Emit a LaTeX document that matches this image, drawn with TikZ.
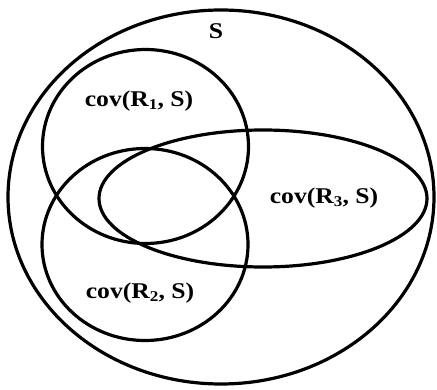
\documentclass[tikz,border=0pt]{standalone}
\usepackage{fontspec}
\setmainfont{Liberation Serif}
\newcommand{\wide}[1]{\scalebox{1.14}[1]{#1}}
\newcommand{\sbs}[1]{\raisebox{-0.32ex}{\fontsize{15}{16}\selectfont #1}}
\tikzset{
  setline/.style={line width=3.2pt, draw=black},
  lbl/.style={font=\fontsize{22.5}{25}\selectfont\bfseries, inner sep=0pt}
}
\begin{document}
\begin{tikzpicture}[x=1pt,y=-1pt]
\useasboundingbox (0,0) rectangle (437,390);
\draw[setline] (221,197) ellipse [x radius=213pt, y radius=187pt];
\draw[setline] (145.5,146.5) ellipse [x radius=103pt, y radius=97pt];
\draw[setline] (145,244.5) ellipse [x radius=103pt, y radius=96pt];
\draw[setline] (263,198.5) ellipse [x radius=164pt, y radius=68.5pt];
\node[lbl] (s) at (216,31) {\wide{S}};
\node[lbl] (c1) at (139,101) {\wide{cov(R\sbs{1}, S)}};
\node[lbl] (c2) at (140,293) {\wide{cov(R\sbs{2}, S)}};
\node[lbl] (c3) at (324,198) {\wide{cov(R\sbs{3}, S)}};
\end{tikzpicture}
\end{document}
